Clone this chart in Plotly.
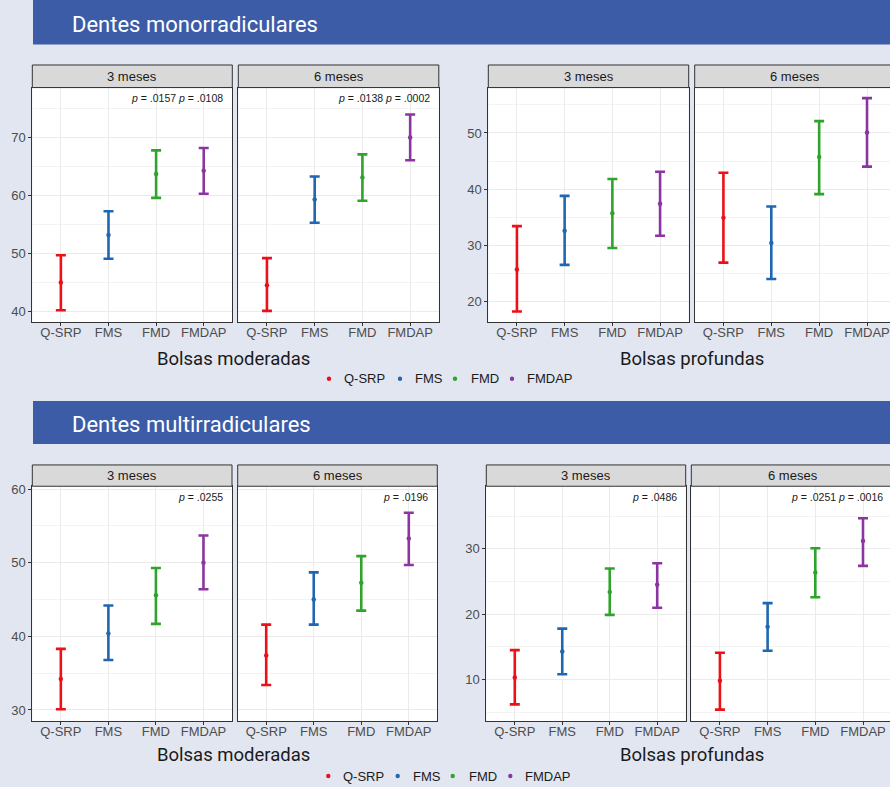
import plotly.graph_objects as go

# ---------------- data ----------------
groups = ["Q-SRP", "FMS", "FMD", "FMDAP"]
colors = ["#ec1018", "#1f67b1", "#2fa32b", "#8b35a0"]

# Dentes monorradiculares - Bolsas moderadas
mono_mod_3m_mean = [45.0, 53.2, 63.7, 64.3]
mono_mod_3m_low = [40.2, 49.1, 59.6, 60.3]
mono_mod_3m_high = [49.7, 57.3, 67.8, 68.2]
mono_mod_6m_mean = [44.5, 59.3, 63.1, 70.0]
mono_mod_6m_low = [40.1, 55.3, 59.1, 66.1]
mono_mod_6m_high = [49.2, 63.3, 67.1, 74.0]
# Dentes monorradiculares - Bolsas profundas
mono_prof_3m_mean = [25.7, 32.6, 35.7, 37.4]
mono_prof_3m_low = [18.2, 26.5, 29.5, 31.7]
mono_prof_3m_high = [33.4, 38.8, 41.8, 43.1]
mono_prof_6m_mean = [34.9, 30.4, 45.7, 50.1]
mono_prof_6m_low = [26.9, 24.0, 39.1, 44.0]
mono_prof_6m_high = [42.9, 36.9, 52.1, 56.2]
# Dentes multirradiculares - Bolsas moderadas
multi_mod_3m_mean = [34.2, 40.4, 45.6, 50.0]
multi_mod_3m_low = [30.1, 36.8, 41.7, 46.4]
multi_mod_3m_high = [38.3, 44.2, 49.3, 53.7]
multi_mod_6m_mean = [37.4, 45.0, 47.3, 53.3]
multi_mod_6m_low = [33.4, 41.6, 43.5, 49.7]
multi_mod_6m_high = [41.6, 48.7, 50.9, 56.8]
# Dentes multirradiculares - Bolsas profundas
multi_prof_3m_mean = [10.3, 14.3, 23.4, 24.5]
multi_prof_3m_low = [6.2, 10.8, 19.9, 21.0]
multi_prof_3m_high = [14.5, 17.8, 27.0, 27.8]
multi_prof_6m_mean = [9.8, 18.1, 26.4, 31.2]
multi_prof_6m_low = [5.4, 14.4, 22.6, 27.4]
multi_prof_6m_high = [14.1, 21.7, 30.1, 34.7]

strip_labels = ["3 meses", "6 meses"]
p_mono_mod_3m = "<i>p</i> = .0157 <i>p</i> = .0108"
p_mono_mod_6m = "<i>p</i> = .0138 <i>p</i> = .0002"
p_multi_mod_3m = "<i>p</i> = .0255"
p_multi_mod_6m = "<i>p</i> = .0196"
p_multi_prof_3m = "<i>p</i> = .0486"
p_multi_prof_6m = "<i>p</i> = .0251 <i>p</i> = .0016"
section_titles = ["Dentes monorradiculares", "Dentes multirradiculares"]
axis_titles = ["Bolsas moderadas", "Bolsas profundas"]

# ---------------- layout helpers ----------------
W, H = 890, 787
def fx(p): return p / W
def fy(p): return 1 - p / H

BG = "#e2e6f0"
BAND = "#3c5ca8"
TICKFONT = dict(family="Liberation Sans, Arial, sans-serif", size=13, color="#4d4d4d")

panels = [
    dict(mean=mono_mod_3m_mean, lo=mono_mod_3m_low, hi=mono_mod_3m_high,
         x0=32.3, x1=232.3, y0=84, y1=320, yr=[38.11, 78.64], xr=[-0.6, 3.6],
         left=True, cut=False, strip=strip_labels[0], p=p_mono_mod_3m, sy0=61.3),
    dict(mean=mono_mod_6m_mean, lo=mono_mod_6m_low, hi=mono_mod_6m_high,
         x0=238.3, x1=438.8, y0=84, y1=320, yr=[38.11, 78.64], xr=[-0.6, 3.6],
         left=False, cut=False, strip=strip_labels[1], p=p_mono_mod_6m, sy0=61.3),
    dict(mean=mono_prof_3m_mean, lo=mono_prof_3m_low, hi=mono_prof_3m_high,
         x0=488.3, x1=688.7, y0=84, y1=320, yr=[16.27, 58.08], xr=[-0.6, 3.6],
         left=True, cut=False, strip=strip_labels[0], p=None, sy0=61.3),
    dict(mean=mono_prof_6m_mean, lo=mono_prof_6m_low, hi=mono_prof_6m_high,
         x0=694.7, x1=890, y0=84, y1=320, yr=[16.27, 58.08], xr=[-0.6, 3.48],
         left=False, cut=True, strip=strip_labels[1], p=None, sy0=61.3),
    dict(mean=multi_mod_3m_mean, lo=multi_mod_3m_low, hi=multi_mod_3m_high,
         x0=32.3, x1=232.0, y0=484.7, y1=720.7, yr=[28.5, 60.4], xr=[-0.6, 3.6],
         left=True, cut=False, strip=strip_labels[0], p=p_multi_mod_3m, sy0=463.3),
    dict(mean=multi_mod_6m_mean, lo=multi_mod_6m_low, hi=multi_mod_6m_high,
         x0=237.7, x1=437.3, y0=484.7, y1=720.7, yr=[28.5, 60.4], xr=[-0.6, 3.6],
         left=False, cut=False, strip=strip_labels[1], p=p_multi_mod_6m, sy0=463.3),
    dict(mean=multi_prof_3m_mean, lo=multi_prof_3m_low, hi=multi_prof_3m_high,
         x0=486.3, x1=685.7, y0=484.7, y1=721, yr=[3.6, 39.6], xr=[-0.6, 3.6],
         left=True, cut=False, strip=strip_labels[0], p=p_multi_prof_3m, sy0=463.3),
    dict(mean=multi_prof_6m_mean, lo=multi_prof_6m_low, hi=multi_prof_6m_high,
         x0=691.3, x1=890, y0=484.7, y1=721, yr=[3.6, 39.6], xr=[-0.6, 3.566],
         left=False, cut=True, strip=strip_labels[1], p=p_multi_prof_6m, sy0=463.3),
]

fig = go.Figure()
layout = dict(
    width=W, height=H, margin=dict(l=0, r=0, t=0, b=0),
    paper_bgcolor=BG, plot_bgcolor="white", showlegend=False,
)
shapes = []
annotations = []

for i, pn in enumerate(panels):
    n = "" if i == 0 else str(i + 1)
    xa, ya = "xaxis" + n, "yaxis" + n
    xr_, yr_ = "x" + n, "y" + n
    layout[xa] = dict(
        domain=[fx(pn["x0"]), min(1.0, fx(pn["x1"]))], anchor=yr_,
        type="category", categoryorder="array", categoryarray=groups,
        range=pn["xr"], showgrid=True, gridcolor="#ebebeb", gridwidth=1,
        showline=True, linecolor="#333333", linewidth=1, mirror=True,
        ticks="outside", ticklen=3, tickcolor="#333333", tickfont=TICKFONT,
        ticklabelstandoff=-5,
        zeroline=False, fixedrange=True,
    )
    layout[ya] = dict(
        domain=[fy(pn["y1"]), fy(pn["y0"])], anchor=xr_,
        range=pn["yr"], dtick=10, tick0=0, showgrid=True, gridcolor="#ebebeb", gridwidth=1,
        minor=dict(dtick=5, tick0=0, showgrid=True, gridcolor="#f3f3f3", gridwidth=0.8),
        showline=True, linecolor="#333333", linewidth=1, mirror=not pn["cut"],
        ticks="outside" if pn["left"] else "", ticklen=3, tickcolor="#333333",
        showticklabels=pn["left"], tickfont=TICKFONT, zeroline=False, fixedrange=True,
    )
    for g, c, m, lo, hi in zip(groups, colors, pn["mean"], pn["lo"], pn["hi"]):
        fig.add_trace(go.Scatter(
            x=[g], y=[m], mode="markers", xaxis=xr_, yaxis=yr_,
            marker=dict(color=c, size=4.5),
            error_y=dict(type="data", symmetric=False, array=[hi - m], arrayminus=[m - lo],
                         color=c, thickness=2.6, width=5),
            hoverinfo="skip",
        ))
    # strip
    sx1 = pn["x1"] + (5 if pn["cut"] else 0)
    shapes.append(dict(type="rect", xref="paper", yref="paper",
                       x0=fx(pn["x0"]), x1=fx(sx1), y0=fy(pn["y0"]), y1=fy(pn["sy0"]),
                       fillcolor="#d9d9d9", line=dict(color="#333333", width=1), layer="above"))
    scx = (pn["x0"] + (pn["x1"] + (4.7 if pn["cut"] else 0))) / 2
    annotations.append(dict(xref="paper", yref="paper", x=fx(scx), y=fy((pn["y0"] + pn["sy0"]) / 2),
                            text=pn["strip"], showarrow=False, xanchor="center", yanchor="middle",
                            font=dict(family="Liberation Sans, Arial, sans-serif", size=13, color="#1a1a1a")))
    if pn["p"]:
        px_right = pn["x1"] - 7 if not pn["cut"] else 885
        annotations.append(dict(xref="paper", yref="paper", x=fx(px_right), y=fy(pn["y0"] + 10.5),
                                text=pn["p"], showarrow=False, xanchor="right", yanchor="middle",
                                font=dict(family="Liberation Sans, Arial, sans-serif", size=10.5,
                                          color="#1a1a1a")))

# section title bands
for (b0, b1, tcy, ext), t in zip([(0, 40.7, 21, 0.01), (399, 442.3, 422.5, 0.0)], section_titles):
    shapes.append(dict(type="rect", xref="paper", yref="paper", x0=fx(33), x1=1.01,
                       y0=fy(b1), y1=fy(b0) + ext, fillcolor=BAND, line=dict(width=0), layer="below"))
    annotations.append(dict(xref="paper", yref="paper", x=fx(70), y=fy(tcy), text=t,
                            showarrow=False, xanchor="left", yanchor="middle",
                            font=dict(family="Roboto, sans-serif", size=22, color="white")))

# axis titles
for yc in (357, 755):
    for xc, t in zip((233, 691.7), axis_titles):
        annotations.append(dict(xref="paper", yref="paper", x=fx(xc), y=fy(yc), text=t,
                                showarrow=False, xanchor="center", yanchor="middle",
                                font=dict(family="Roboto, sans-serif", size=18.5, color="#1a1a1a")))

# legends (manual, two rows)
legend_rows = [
    (376.7, [329, 400, 455, 512], [341.7, 413, 469, 525]),
    (776, [328.3, 397.7, 452.7, 510.3], [341, 411, 466.7, 523.3]),
]
for ly, dots, texts in legend_rows:
    for g, c, dx, tx in zip(groups, colors, dots, texts):
        r = 2.2
        shapes.append(dict(type="circle", xref="paper", yref="paper",
                           x0=fx(dx - r), x1=fx(dx + r), y0=fy(ly + r), y1=fy(ly - r),
                           fillcolor=c, line=dict(width=0)))
        annotations.append(dict(xref="paper", yref="paper", x=fx(tx), y=fy(ly), text=g,
                                showarrow=False, xanchor="left", yanchor="middle",
                                font=dict(family="Liberation Sans, Arial, sans-serif", size=13,
                                          color="#1a1a1a")))

layout["shapes"] = shapes
layout["annotations"] = annotations
fig.update_layout(**layout)
fig.write_html(
    "out.html",
    config={"displayModeBar": False},
    post_script=(
        "document.body.style.margin='0px';document.body.style.overflow='hidden';"
        "document.body.style.background='" + BG + "';"
        "var gd=document.getElementsByClassName('plotly-graph-div')[0];"
        "gd.style.position='absolute';gd.style.top='0px';gd.style.left='0px';"
    ),
)
